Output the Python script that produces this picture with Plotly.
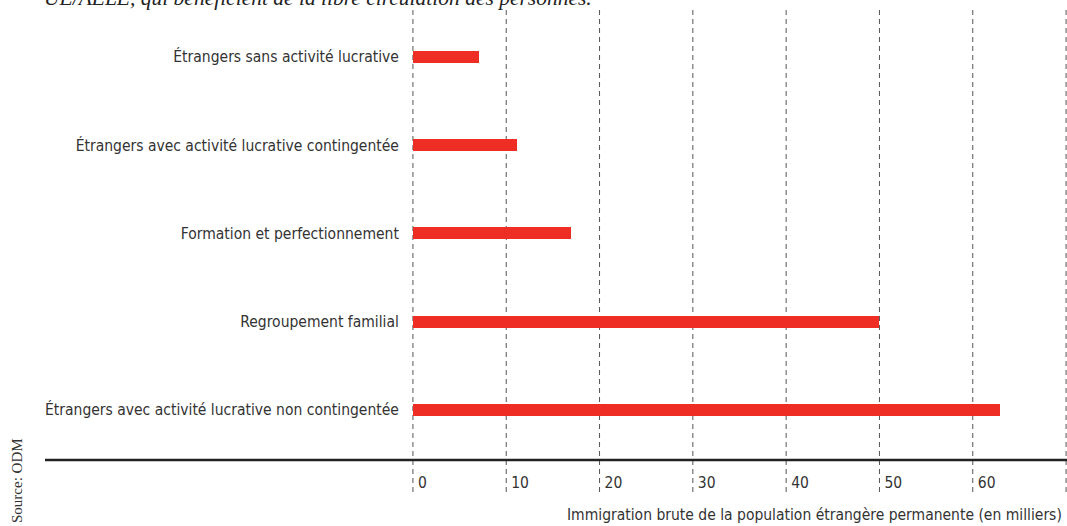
import plotly.graph_objects as go

# Categories, bottom to top
categories = [
    "Étrangers avec activité lucrative non contingentée",
    "Regroupement familial",
    "Formation et perfectionnement",
    "Étrangers avec activité lucrative contingentée",
    "Étrangers sans activité lucrative",
]
# Gross immigration of the permanent foreign population (thousands)
values = [62.9, 49.9, 16.9, 11.2, 7.1]

tick_vals = [0, 10, 20, 30, 40, 50, 60, 70]
tick_text = ["0", "10", "20", "30", "40", "50", "60", ""]

BAR_RED = "#EE2E24"
GRID_GREY = "#555555"
LABEL_FONT = "DejaVu Sans Condensed, DejaVu Sans"
LABEL_SIZE = 15.5

W, H = 1067, 526
M_L, M_R, M_T, M_B = 412, 0, 8, 29
X_RANGE = [-0.1, 70.1]

fig = go.Figure(
    go.Bar(
        x=values,
        y=categories,
        orientation="h",
        marker=dict(color=BAR_RED, line=dict(width=0)),
        width=0.136,
        hoverinfo="x+y",
    )
)

plot_h = H - M_T - M_B
plot_w = W - M_L - M_R


def px_to_paper_y(p):
    return (H - M_B - p) / plot_h


def px_to_paper_x(p):
    return (p - M_L) / plot_w


fig.update_layout(
    width=W,
    height=H,
    margin=dict(l=M_L, r=M_R, t=M_T, b=M_B, pad=0),
    paper_bgcolor="white",
    plot_bgcolor="white",
    showlegend=False,
    bargap=0,
    font=dict(family=LABEL_FONT, size=LABEL_SIZE, color="#333333"),
    xaxis=dict(
        range=X_RANGE,
        tickvals=tick_vals,
        ticktext=tick_text,
        ticklabelposition="inside right",
        ticklabelshift=5,
        ticks="",
        showgrid=False,
        zeroline=False,
        showline=False,
        tickfont=dict(family=LABEL_FONT, size=LABEL_SIZE, color="#333333"),
    ),
    yaxis=dict(
        categoryorder="array",
        categoryarray=categories,
        range=[-0.986, 4.555],
        showgrid=False,
        zeroline=False,
        showline=False,
        ticks="outside",
        ticklen=9,
        tickcolor="rgba(0,0,0,0)",
        tickfont=dict(family=LABEL_FONT, size=LABEL_SIZE, color="#333333"),
    ),
)

# Dashed vertical guides at every tick, including both range ends
for v in tick_vals:
    fig.add_shape(
        type="line",
        xref="x",
        yref="paper",
        x0=v,
        x1=v,
        y0=px_to_paper_y(492),
        y1=1.0,
        line=dict(color=GRID_GREY, width=1, dash="5px,4px"),
        layer="below",
    )

# Baseline rule spanning under the labels and the bars
fig.add_shape(
    type="line",
    xref="paper",
    yref="paper",
    x0=px_to_paper_x(45),
    x1=1.0,
    y0=px_to_paper_y(460),
    y1=px_to_paper_y(460),
    line=dict(color="#222222", width=2.5),
    layer="above",
)

# Axis title
fig.add_annotation(
    text="Immigration brute de la population étrangère permanente (en milliers)",
    xref="paper",
    yref="paper",
    x=1.0,
    xshift=-3,
    y=px_to_paper_y(515),
    xanchor="right",
    yanchor="middle",
    showarrow=False,
    font=dict(family=LABEL_FONT, size=LABEL_SIZE, color="#333333"),
)

# Source note, vertical
fig.add_annotation(
    text="Source: ODM",
    textangle=-90,
    xref="paper",
    yref="paper",
    x=px_to_paper_x(17),
    y=px_to_paper_y(481),
    xanchor="center",
    yanchor="middle",
    showarrow=False,
    font=dict(family="Liberation Serif", size=15, color="#333333"),
)

# Subtitle line at the top edge of the page
fig.add_annotation(
    text="<i>UE/AELE, qui bénéficient de la libre circulation des personnes.</i>",
    xref="paper",
    yref="paper",
    x=px_to_paper_x(42),
    y=px_to_paper_y(12),
    xanchor="left",
    yanchor="bottom",
    showarrow=False,
    font=dict(family="Liberation Serif", size=21.5, color="#222222"),
)

fig.write_html("out.html")
